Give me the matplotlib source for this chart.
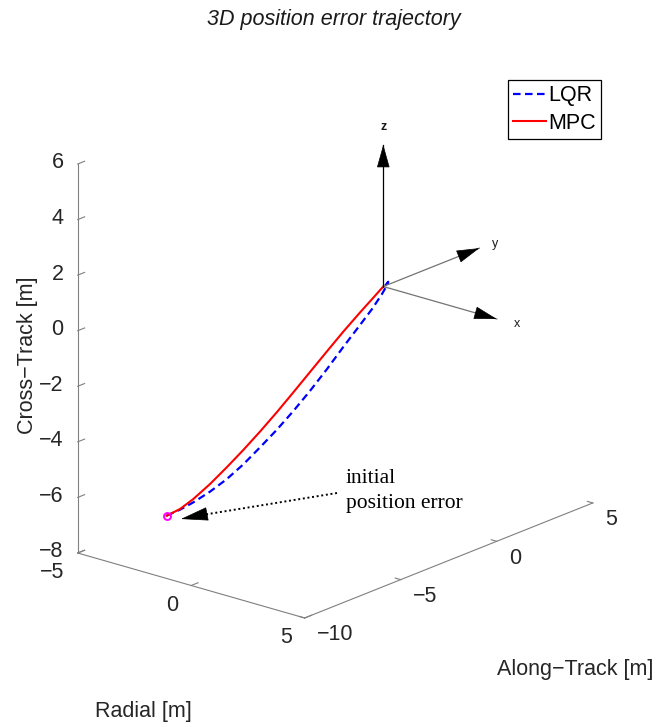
import numpy as np
import matplotlib
matplotlib.use("Agg")
import matplotlib.pyplot as plt
from matplotlib.patches import FancyArrowPatch
from matplotlib.lines import Line2D
from mpl_toolkits.mplot3d import proj3d

# ---------------- data ----------------
# MPC trajectory (Radial, Along-Track, Cross-Track) [m]
mpc_radial = [-1.501, -1.409, -1.317, -1.201, -1.085, -0.970, -0.854, -0.739,
              -0.624, -0.508, -0.392, -0.277, -0.161, -0.080, 0.0]
mpc_along = [-9.507, -8.923, -8.339, -7.606, -6.873, -6.145, -5.412, -4.679,
             -3.950, -3.217, -2.484, -1.756, -1.023, -0.509, 0.0]
mpc_cross = [-5.976, -5.878, -5.658, -5.294, -4.868, -4.417, -3.930, -3.414,
             -2.869, -2.310, -1.752, -1.206, -0.691, -0.346, 0.0]

# LQR trajectory
lqr_radial = [-1.501, -1.409, -1.317, -1.201, -1.085, -0.970, -0.854, -0.739,
              -0.624, -0.508, -0.392, -0.277, -0.161, -0.080, -0.011, 0.024,
              0.035, 0.012, 0.0]
lqr_along = [-9.507, -8.923, -8.339, -7.606, -6.873, -6.145, -5.412, -4.679,
             -3.950, -3.217, -2.484, -1.756, -1.023, -0.509, -0.070, 0.149,
             0.219, 0.075, 0.0]
lqr_cross = [-5.976, -5.900, -5.777, -5.567, -5.293, -4.935, -4.498, -4.044,
             -3.542, -2.990, -2.392, -1.757, -1.141, -0.706, -0.271, -0.010,
             0.117, 0.007, 0.0]

init_point = [-1.501, -9.507, -5.976]

x_ticks = [-5, 0, 5]
y_ticks = [-10, -5, 0, 5]
z_ticks = [-8, -6, -4, -2, 0, 2, 4, 6]

# local frame arrows (x, y, z) from origin
frame_names = ["x", "y", "z"]
frame_vecs = [[5.0, 0.0, 0.0], [0.0, 5.0, 0.0], [0.0, 0.0, 5.1]]
frame_label_pos = [[5.85, 0.05, 0.0], [0.15, 5.65, 0.0], [0.0, 0.0, 5.75]]

W, H = 657, 727
plt.rcParams['font.family'] = ['Liberation Sans', 'DejaVu Sans']
fig = plt.figure(figsize=(W / 100, H / 100), dpi=100)
ax = fig.add_subplot(projection='3d', proj_type='ortho')
ax.set_position([0.05, 0.1, 0.8 * H / W, 0.8])
ax.view_init(elev=19.76, azim=-49.74)
ax.set_box_aspect((0.667, 1, 0.927))
ax.set_xlim(-5, 5)
ax.set_ylim(-10, 5)
ax.set_zlim(-8, 6)
ax.set_xticks(x_ticks)
ax.set_yticks(y_ticks)
ax.set_zticks(z_ticks)
ax.xaxis.set_ticklabels([])
ax.yaxis.set_ticklabels([])
ax.zaxis.set_ticklabels([])
ax.zaxis.set_ticks_position('lower')
ax.grid(False)
axis_col = '0.5'
for a in (ax.xaxis, ax.yaxis, ax.zaxis):
    a.pane.fill = False
    a.pane.set_edgecolor((1, 1, 1, 0))
    a.line.set_color(axis_col)
    a.line.set_linewidth(0.8)
    a._axinfo['tick']['inward_factor'] = 0.0
    a._axinfo['tick']['outward_factor'] = 0.3
    a._axinfo['tick']['color'] = axis_col
    a._axinfo['tick']['linewidth'] = {True: 0.8, False: 0.5}
ax.zaxis.line.set_color((1, 1, 1, 0))
for a in (ax.xaxis, ax.yaxis, ax.zaxis):
    for t in a.get_ticklines():
        t.set_color(axis_col)

# z axis line at the left corner
ax.plot([x_ticks[0], x_ticks[0]], [y_ticks[0], y_ticks[0]], [z_ticks[0], z_ticks[-1]],
        color=axis_col, lw=0.8)

# trajectories
l_lqr, = ax.plot(lqr_radial, lqr_along, lqr_cross, '--', color='#0000ff', lw=1.6,
                 dashes=(3.4, 2.0), dash_joinstyle='round', label='LQR')
l_mpc, = ax.plot(mpc_radial, mpc_along, mpc_cross, '-', color='#ff0000', lw=1.5,
                 solid_joinstyle='round', label='MPC')
ax.plot([init_point[0]], [init_point[1]], [init_point[2]], 'o', mfc='none',
        mec='#ff00ff', ms=5, mew=1.4)


class Arrow3D(FancyArrowPatch):
    def __init__(self, xs, ys, zs, *args, **kwargs):
        super().__init__((0, 0), (0, 0), *args, **kwargs)
        self._verts3d = xs, ys, zs

    def do_3d_projection(self, renderer=None):
        xs3d, ys3d, zs3d = self._verts3d
        xs, ys, zs = proj3d.proj_transform(xs3d, ys3d, zs3d, self.axes.M)
        self.set_positions((xs[0], ys[0]), (xs[1], ys[1]))
        return np.min(zs)


for name, v in zip(frame_names, frame_vecs):
    shaft_col = 'black' if name == 'z' else '0.45'
    ax.plot([0, v[0]], [0, v[1]], [0, v[2]], color=shaft_col, lw=0.9)
    arr = Arrow3D([v[0] * 0.85, v[0]], [v[1] * 0.85, v[1]], [v[2] * 0.85, v[2]],
                  arrowstyle='-|>,head_length=1.0,head_width=0.28', mutation_scale=15,
                  color='black', lw=0.5, shrinkA=0, shrinkB=0)
    ax.add_artist(arr)

# fit the 3D box to target pixel positions
fig.canvas.draw()


def disp(p):
    x2, y2, _ = proj3d.proj_transform(p[0], p[1], p[2], ax.M)
    return ax.transData.transform((x2, y2))


for _ in range(2):
    A = disp((-5, -10, -8))
    B = disp((-5, -10, 6))
    bb = ax.get_position()
    w_px = bb.width * W
    h_px = bb.height * H
    k = 389.0 / (B[1] - A[1])
    fa = ((A[0] - bb.x0 * W) / w_px, (A[1] - bb.y0 * H) / h_px)
    new = w_px * k
    tx, ty = 77.7, H - 553.0
    x0 = tx - fa[0] * new
    y0 = ty - fa[1] * new
    ax.set_position([x0 / W, y0 / H, new / W, new / H])
    fig.canvas.draw()

# tick labels placed at projected tick positions (MATLAB-like placement)
fs_tick = 15.5
tick_col = '0.15'


def lab(v):
    return ('\u2212' + str(abs(v))) if v < 0 else str(v)


def put(p, s, dx, dy, **kw):
    d = disp(p)
    fig.text((d[0] + dx) / W, (d[1] + dy) / H, s, **kw)


for v in x_ticks:
    put((v, y_ticks[0], z_ticks[0]), lab(v), -13, -20, fontsize=fs_tick,
        color=tick_col, ha='right', va='center')
for v in y_ticks:
    put((x_ticks[-1], v, z_ticks[0]), lab(v), 12, -17, fontsize=fs_tick,
        color=tick_col, ha='left', va='center')
for v in z_ticks:
    put((x_ticks[0], y_ticks[0], v), lab(v), -14, 1, fontsize=fs_tick,
        color=tick_col, ha='right', va='center')

for name, lp in zip(frame_names, frame_label_pos):
    put(lp, name, 0, 0, fontsize=9, fontweight='bold' if name == 'z' else 'normal',
        ha='center', va='center', color='0.1')

# axis labels
fig.text(28 / W, 1 - 355 / H, 'Cross\u2212Track [m]', rotation=90, fontsize=15.5,
         ha='center', va='center', color='0.15')
fig.text(143 / W, 1 - 712 / H, 'Radial [m]', fontsize=15.5, ha='center', va='center',
         color='0.15')
fig.text(575 / W, 1 - 670 / H, 'Along\u2212Track [m]', fontsize=15.5, ha='center',
         va='center', color='0.15')

# title
fig.text(334 / W, 1 - 20 / H, '3D position error trajectory', fontsize=15.5,
         style='italic', ha='center', va='center', color='0.1')

# annotation
fig.text(346 / W, 1 - 491 / H, 'initial\nposition error', fontsize=15.5,
         family=['Liberation Serif', 'DejaVu Serif'], ha='left', va='center',
         linespacing=1.45)
fig.add_artist(Line2D([337, 196], [H - 493, H - 516], transform=None, color='black',
                      lw=1.4, linestyle=(0, (1, 1.4))))
fig.add_artist(FancyArrowPatch(
    (199, H - 515.5), (181, H - 519), transform=None,
    arrowstyle='-|>,head_length=1.2,head_width=0.3', mutation_scale=15,
    color='black', lw=0.5, shrinkA=0, shrinkB=0))

leg = fig.legend(handles=[l_lqr, l_mpc], loc='upper left',
                 bbox_to_anchor=(508 / W, 1 - 80 / H), fontsize=15.5,
                 frameon=True, fancybox=False, edgecolor='black', framealpha=1,
                 handlelength=1.5, handletextpad=0.1, labelspacing=0.3,
                 borderpad=0.25, borderaxespad=0)
leg.get_frame().set_linewidth(0.9)

fig.savefig('out.png', dpi=100)
